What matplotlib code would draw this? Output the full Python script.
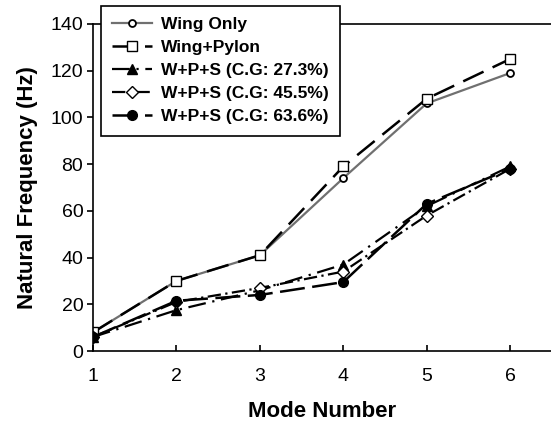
import matplotlib
import matplotlib.pyplot as plt
import numpy as np

matplotlib.use("Agg")

plt.rcParams["font.family"] = ["Liberation Sans", "DejaVu Sans"]

modes = [1, 2, 3, 4, 5, 6]
wing_only = [8, 30, 41, 74, 106, 119]
wing_pylon = [8, 30, 41, 79, 108, 125]
cg_273 = [6, 17.5, 26, 37, 62, 79]
cg_455 = [6, 21, 27, 34, 58, 78]
cg_636 = [6, 21.5, 24, 29.5, 63, 78]

fig = plt.figure(figsize=(5.51, 4.23), dpi=100)
axis = fig.add_axes([0.1688, 0.1702, 0.8312, 0.7731])

axis.plot(modes, wing_only, color="#707070", linestyle="-", linewidth=1.6,
          marker="o", markersize=5, markerfacecolor="white",
          markeredgecolor="black", markeredgewidth=1.3, label="Wing Only")
axis.plot(modes, wing_pylon, color="black", linestyle=(0, (9, 4)), linewidth=1.8,
          marker="s", markersize=7, markerfacecolor="white",
          markeredgecolor="black", markeredgewidth=1.0, label="Wing+Pylon")
axis.plot(modes, cg_273, color="black", linestyle=(0, (8, 3, 1, 3)), linewidth=1.6,
          marker="^", markersize=7, markerfacecolor="black",
          markeredgecolor="black", label="W+P+S (C.G: 27.3%)")
axis.plot(modes, cg_455, color="black", linestyle=(0, (6, 2, 1, 2)), linewidth=1.6,
          marker="D", markersize=6, markerfacecolor="white",
          markeredgecolor="black", markeredgewidth=1.0, label="W+P+S (C.G: 45.5%)")
axis.plot(modes, cg_636, color="black", linestyle=(0, (10, 3)), linewidth=1.8,
          marker="o", markersize=7, markerfacecolor="black",
          markeredgecolor="black", label="W+P+S (C.G: 63.6%)")

axis.set_xlim(1, 6.49)
axis.set_ylim(0, 140)
axis.set_xticks(modes)
axis.set_yticks(np.arange(0, 141, 20))
axis.spines["right"].set_visible(False)
for side in ["left", "bottom", "top"]:
    axis.spines[side].set_linewidth(1.2)
axis.tick_params(axis="y", direction="out", length=4, width=1.2, labelsize=14, pad=3)
axis.tick_params(axis="x", direction="in", length=4, width=1.2, labelsize=14, pad=12)

axis.set_xlabel("Mode Number", fontsize=16, fontweight="bold", labelpad=12)
axis.set_ylabel("Natural Frequency (Hz)", fontsize=16, fontweight="bold", labelpad=9)

legend = fig.legend(loc="upper left", bbox_to_anchor=(101 / 551, 1 - 6 / 423),
                    prop={"weight": "bold", "size": 12.5},
                    handlelength=2.3, labelspacing=0.45, borderpad=0.65,
                    handletextpad=0.5, fancybox=False, framealpha=1,
                    edgecolor="black", borderaxespad=0)
legend.get_frame().set_linewidth(1.2)

plt.savefig("out.png")
plt.close()
